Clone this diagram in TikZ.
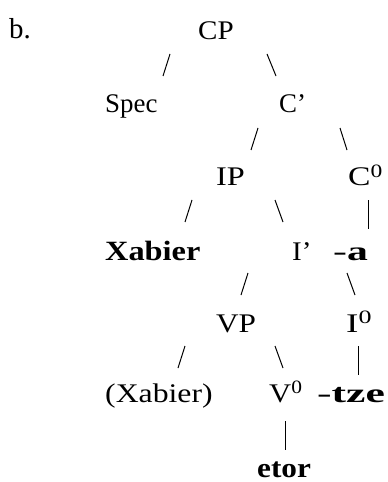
\documentclass[tikz,border=0pt]{standalone}
\usepackage{graphicx}
\usepackage{fontspec}
\setmainfont{Liberation Serif}
\newcommand{\sx}[2]{\scalebox{#1}[1]{#2}}
\begin{document}
\begin{tikzpicture}[x=1bp,y=-1bp,
  lab/.style={anchor=base west,inner sep=0pt,font=\fontsize{27}{30}\selectfont},
  bl/.style={lab,font=\fontsize{28}{30}\selectfont\bfseries},
  branch/.style={line width=1bp}]
\useasboundingbox (0,0) rectangle (387,482);
% labels
\node[lab,font=\fontsize{29}{32}\selectfont] (b) at (9,39) {b.};
\node[lab] (CP) at (198,40) {\sx{1.08}{CP}};
\node[lab] (Spec) at (105,113) {Spec};
\node[lab] (Cbar) at (279,113) {C’};
\node[lab] (IP) at (216,186) {\sx{1.2}{IP}};
\node[lab] (C0) at (348,186) {\sx{1.25}{C\textsuperscript{0}}};
\node[bl] (Xab) at (105,260) {\sx{1.16}{Xabier}};
\node[lab] (Ibar) at (292,260) {\sx{1.08}{I’}};
\node[lab] (a) at (333,260) {\sx{1.55}{-\textbf{a}}};
\node[lab] (VP) at (216,332) {\sx{1.16}{VP}};
\node[lab] (I0) at (346,332) {\sx{1.38}{I\textsuperscript{0}}};
\node[lab] (Xtr) at (105,402) {\sx{1.18}{(Xabier)}};
\node[lab] (V0) at (269,402) {\sx{1.14}{V\textsuperscript{0}}};
\node[lab] (tze) at (317,402) {\sx{1.62}{-\textbf{tze}}};
\node[bl] (etor) at (257,477) {\sx{1.12}{etor}};
% branches
\draw[branch] (163,76) -- (170,54);
\draw[branch] (267,54) -- (276,76);
\draw[branch] (251,150) -- (258,128);
\draw[branch] (340,128) -- (347,150);
\draw[branch] (185,222) -- (192,200);
\draw[branch] (275,200) -- (283,222);
\draw[branch] (368.5,200) -- (368.5,229);
\draw[branch] (241,295) -- (248,273);
\draw[branch] (347,273) -- (355,295);
\draw[branch] (178,368) -- (185,346);
\draw[branch] (275,346) -- (283,368);
\draw[branch] (358.5,346) -- (358.5,375);
\draw[branch] (285.5,421) -- (285.5,450);
\end{tikzpicture}
\end{document}
